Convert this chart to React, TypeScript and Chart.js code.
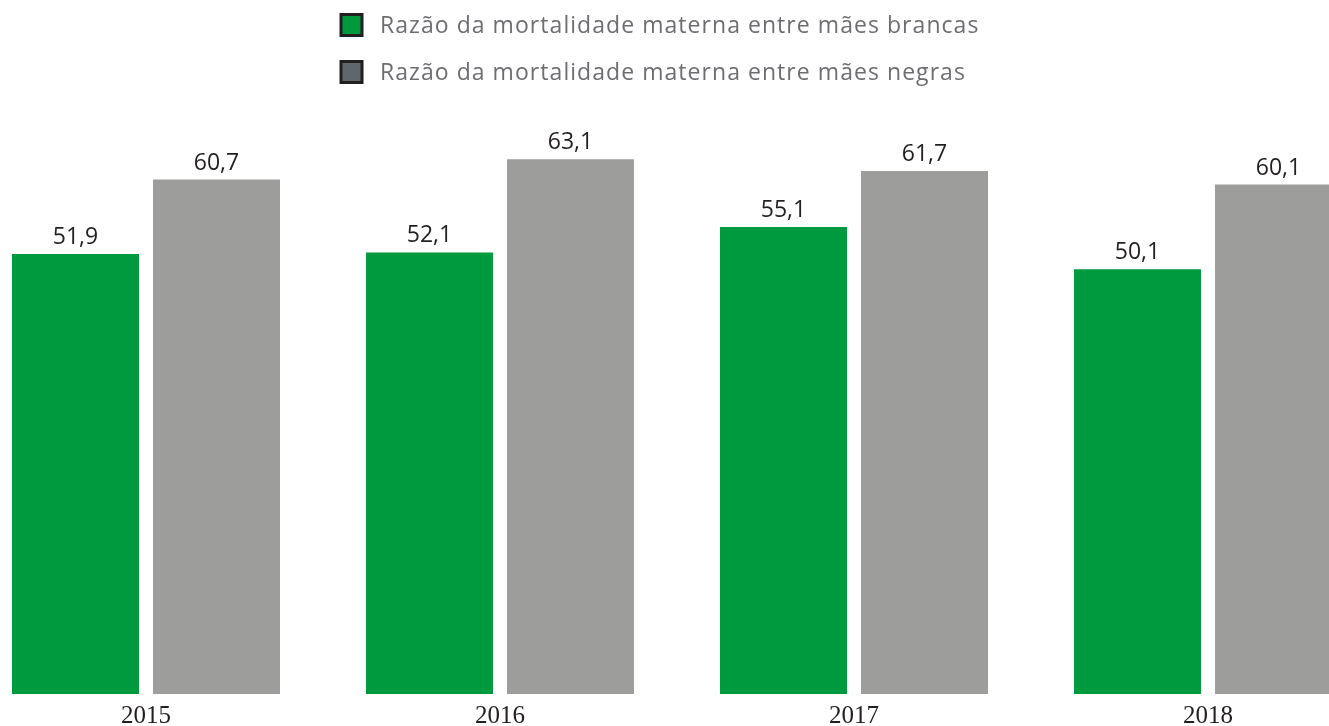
import React, { useEffect, useRef } from "react";
import { Chart, registerables } from "chart.js";

Chart.register(...registerables);

const categories = ["2015", "2016", "2017", "2018"];
const seriesLabels = [
  "Razão da mortalidade materna entre mães brancas",
  "Razão da mortalidade materna entre mães negras",
];
const brancas = [51.9, 52.1, 55.1, 50.1];
const negras = [60.7, 63.1, 61.7, 60.1];

const barColors = ["#009a3e", "#9d9d9c"];
const legendColors = ["#009a3e", "#5f666d"];

const fmt = (v: number) => v.toFixed(1).replace(".", ",");

const OFFSET_X = 31;

const valueLabelPlugin = {
  id: "valueLabels",
  afterDatasetsDraw(chart: any) {
    const ctx = chart.ctx;
    ctx.save();
    ctx.font = '23px "Open Sans"';
    ctx.fillStyle = "#231f20";
    ctx.textAlign = "center";
    ctx.textBaseline = "bottom";
    chart.data.datasets.forEach((ds: any, di: number) => {
      const meta = chart.getDatasetMeta(di);
      meta.data.forEach((bar: any, i: number) => {
        ctx.fillText(fmt(ds.data[i]), bar.x, bar.y - 5);
      });
    });
    ctx.restore();
  },
};

const customLegendPlugin = {
  id: "customLegend",
  afterDraw(chart: any) {
    const ctx = chart.ctx;
    ctx.save();
    const boxX = 341 + OFFSET_X;
    const textX = 380 + OFFSET_X;
    const rows = [25, 72];
    ctx.font = '23px "Open Sans"';
    try {
      (ctx as any).letterSpacing = "1.05px";
    } catch (e) {}
    ctx.textAlign = "left";
    ctx.textBaseline = "middle";
    chart.data.datasets.forEach((ds: any, i: number) => {
      const cy = rows[i];
      ctx.fillStyle = legendColors[i];
      ctx.fillRect(boxX, cy - 10.5, 21, 21);
      ctx.lineWidth = 3;
      ctx.strokeStyle = "#231f20";
      ctx.strokeRect(boxX, cy - 10.5, 21, 21);
      ctx.fillStyle = "#6d6e71";
      ctx.fillText(seriesLabels[i], textX, cy + 1);
    });
    ctx.restore();
  },
};

export default function App() {
  const canvasRef = useRef<HTMLCanvasElement | null>(null);

  useEffect(() => {
    if (!canvasRef.current) return;
    const chart = new Chart(canvasRef.current, {
      type: "bar",
      data: {
        labels: categories,
        datasets: [
          {
            label: seriesLabels[0],
            data: brancas,
            backgroundColor: barColors[0],
            borderWidth: 0,
          },
          {
            label: seriesLabels[1],
            data: negras,
            backgroundColor: barColors[1],
            borderWidth: 0,
          },
        ],
      },
      options: {
        animation: false,
        responsive: true,
        maintainAspectRatio: false,
        layout: { padding: { top: 100.7, bottom: 0, left: 0, right: 0 } },
        datasets: {
          bar: { categoryPercentage: 0.7966, barPercentage: 0.9007 },
        },
        plugins: {
          legend: { display: false },
          tooltip: { enabled: false },
          title: { display: false },
        },
        scales: {
          x: {
            grid: { display: false, drawTicks: false },
            border: { display: false },
            ticks: {
              color: "#231f20",
              padding: 7,
              font: { family: '"Liberation Serif", "Times New Roman", serif', size: 25, lineHeight: 1.2 },
            },
          },
          y: {
            display: false,
            min: 0,
            max: 70,
          },
        },
      },
      plugins: [valueLabelPlugin, customLegendPlugin],
    });
    return () => chart.destroy();
  }, []);

  return (
    <div
      style={{
        position: "absolute",
        left: 0,
        top: 0,
        width: 1329,
        height: 726,
        overflow: "hidden",
        background: "#ffffff",
      }}
    >
      <div
        style={{
          position: "absolute",
          left: -OFFSET_X,
          top: 0,
          width: 1416,
          height: 738,
        }}
      >
        <canvas ref={canvasRef} />
      </div>
    </div>
  );
}
